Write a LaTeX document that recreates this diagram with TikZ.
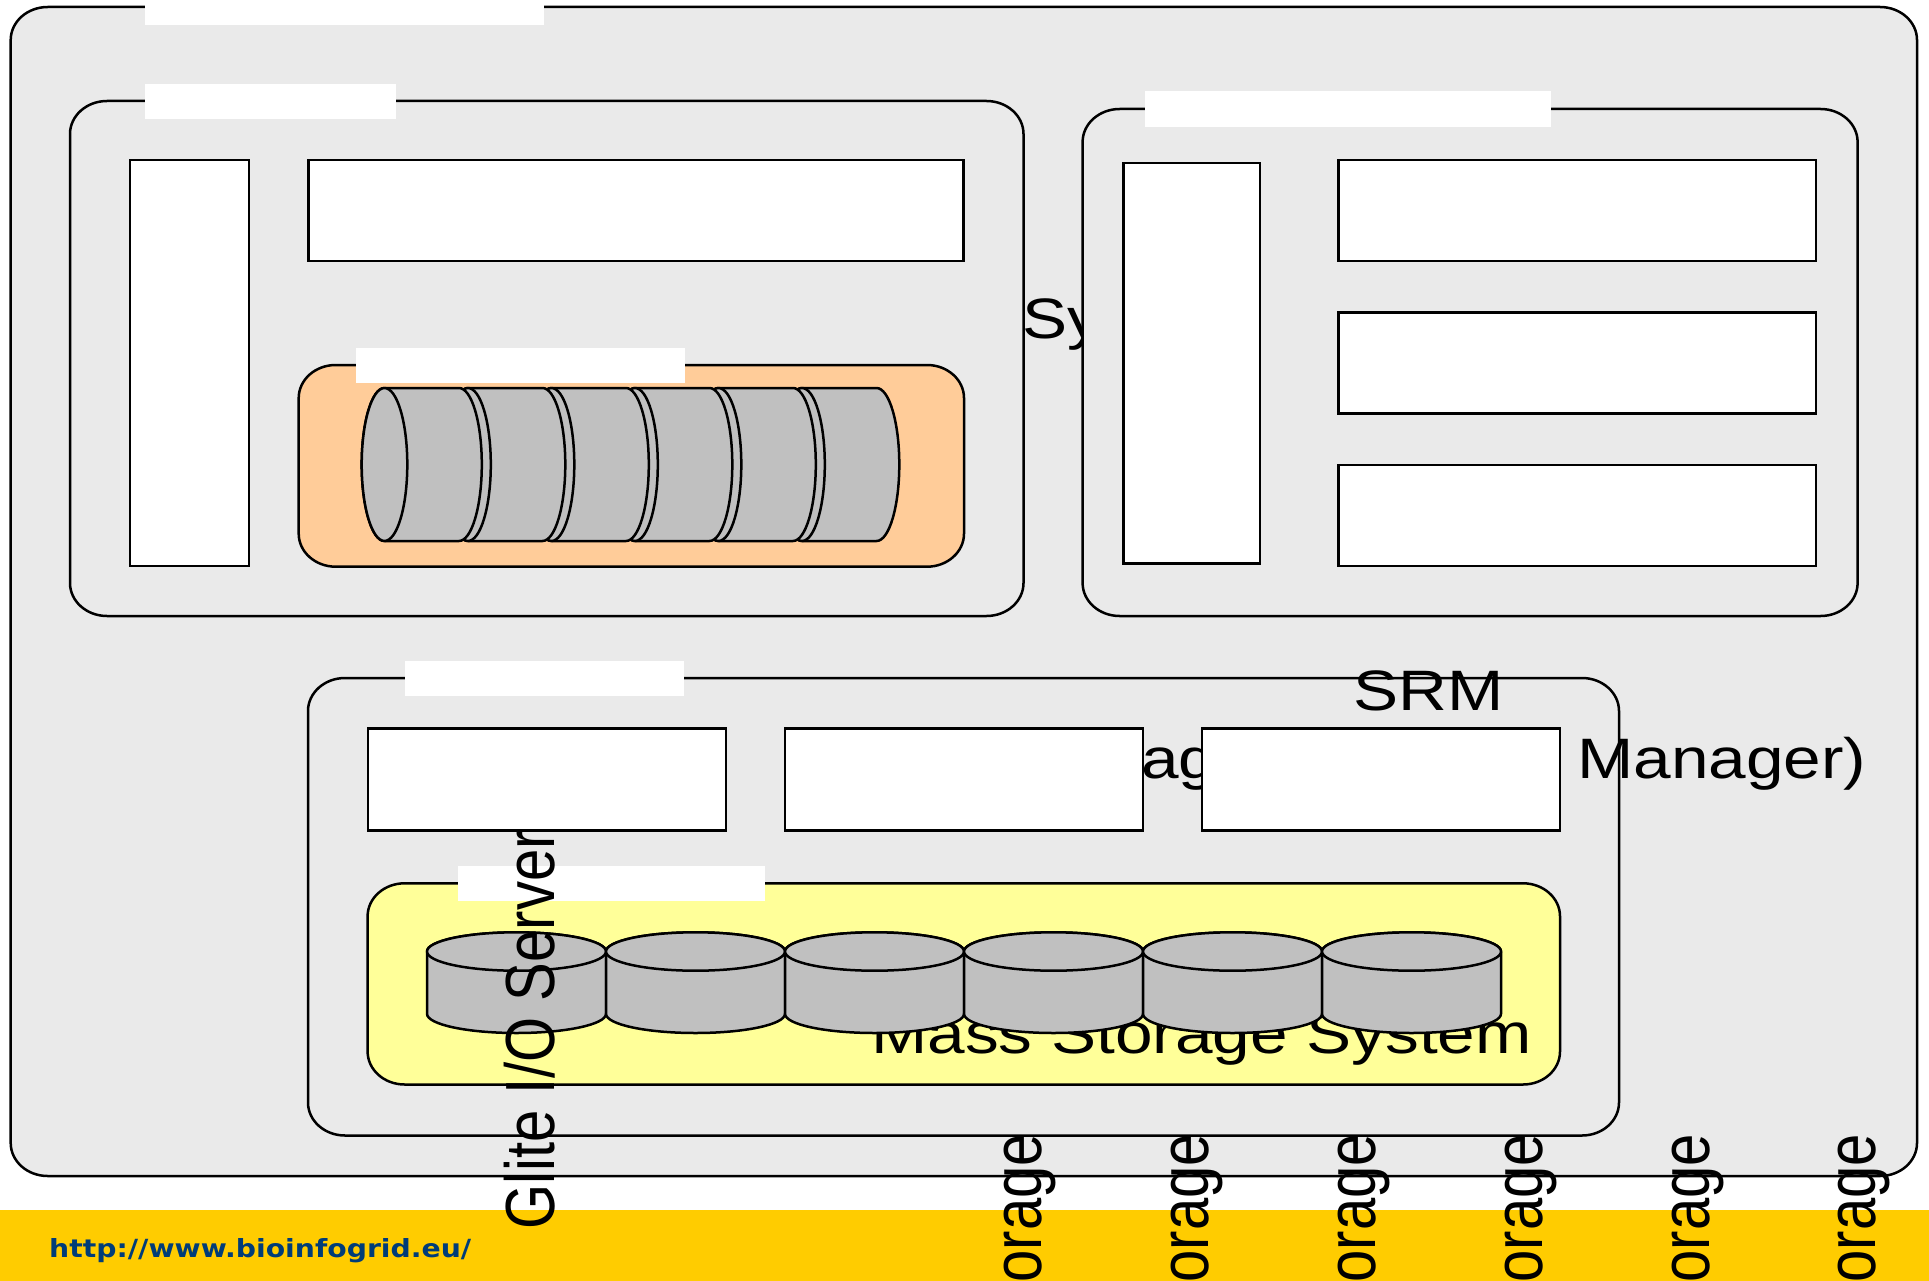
\documentclass[tikz,border=0pt]{standalone}
\usepackage{fontspec}
\setmainfont{Liberation Sans}
\newfontfamily\urlfont{DejaVu Sans}
\definecolor{panelgrey}{HTML}{EAEAEA}
\definecolor{bandyellow}{HTML}{FFCC00}
\definecolor{storeorange}{HTML}{FFCC99}
\definecolor{storeyellow}{HTML}{FFFF99}
\definecolor{diskgrey}{HTML}{C0C0C0}
\definecolor{urlblue}{HTML}{003C78}
\newcommand{\bigtext}[1]{\scalebox{1.185}[1]{\fontsize{57}{60}\selectfont #1}}
\newcommand{\uptext}[1]{\scalebox{1.2}[1]{\rotatebox{90}{\raisebox{0pt}[\height][0pt]{\fontsize{58}{60}\selectfont #1}}}}
% rounded rectangle with elliptical corners: x1,y1,x2,y2 (y axis points down)
\newcommand{\rrect}[5][]{%
  \path[outl,#1] (#2+37,#3) -- (#4-37,#3) arc[start angle=-90,end angle=0,x radius=37,y radius=33]
    -- (#4,#5-33) arc[start angle=0,end angle=90,x radius=37,y radius=33]
    -- (#2+37,#5) arc[start angle=90,end angle=180,x radius=37,y radius=33]
    -- (#2,#3+33) arc[start angle=180,end angle=270,x radius=37,y radius=33] -- cycle;}
\newcommand{\hcyl}[1]{%
  \path[outl,fill=diskgrey] (#1,388) -- (#1+74.5,388)
    arc[start angle=-90,end angle=90,x radius=22.8,y radius=76.5]
    -- (#1,541) arc[start angle=90,end angle=270,x radius=22.8,y radius=76.5] -- cycle;
  \path[outl,fill=diskgrey] (#1,464.5) ellipse[x radius=22.8,y radius=76.5];}
\newcommand{\vcyl}[1]{%
  \path[outl,fill=diskgrey] (#1,951.5) -- (#1,1013.8)
    arc[start angle=180,end angle=0,x radius=89.5,y radius=19.2]
    -- (#1+179,951.5) arc[start angle=0,end angle=-180,x radius=89.5,y radius=19.2] -- cycle;
  \path[outl,fill=diskgrey] (#1+89.5,951.5) ellipse[x radius=89.5,y radius=19.2];}
\begin{document}
\begin{tikzpicture}[x=1pt,y=-1pt,
  outl/.style={draw=black,line width=2.5pt,line join=round},
  wbox/.style={draw=black,line width=2.5pt,fill=white},
  titlebar/.style={fill=white},
  lbl/.style={inner sep=0pt,anchor=base west},
  uplbl/.style={inner sep=0pt,anchor=north east}]
\useasboundingbox (0,0) rectangle (1929,1281);
\clip (0,0) rectangle (1929,1281);
\fill[white] (0,0) rectangle (1929,1281);
\fill[bandyellow] (0,1210) rectangle (1929,1281);
\node[lbl,text=urlblue] (url) at (49,1257) {\resizebox{422pt}{\height}{\urlfont\bfseries\fontsize{25}{28}\selectfont http://www.bioinfogrid.eu/}};
% outer panel
\rrect[fill=panelgrey]{10.7}{7}{1917}{1176}
\fill[titlebar] (145,0) rectangle (544,25);
% left panel
\rrect[fill=panelgrey]{70}{101}{1023.5}{616}
\fill[titlebar] (145,84) rectangle (396,119);
\node[lbl] (sy) at (1022,338) {\bigtext{Sy}};
\draw[wbox] (130,160) rectangle (249,566);
\draw[wbox] (308.5,160) rectangle (963.5,261);
\rrect[fill=storeorange]{298.7}{365}{964}{566.7}
\foreach \cx in {802,718.5,635,551.5,468,384.5} {\hcyl{\cx}}
\fill[titlebar] (356,348) rectangle (685,383);
% right panel
\rrect[fill=panelgrey]{1082.6}{109}{1857.6}{616}
\fill[titlebar] (1145.3,91) rectangle (1551,126.7);
\draw[wbox] (1123.5,163) rectangle (1260,563.4);
\draw[wbox] (1338.5,160) rectangle (1815.8,261);
\draw[wbox] (1338.5,312.5) rectangle (1815.8,413.4);
\draw[wbox] (1338.5,465) rectangle (1815.8,566);
% SRM panel
\rrect[fill=panelgrey]{308}{678}{1619}{1135.5}
\fill[titlebar] (404.7,660.6) rectangle (684,696);
\node[lbl] (srm) at (1353,710) {\bigtext{SRM}};
\node[lbl] (ag) at (1141,778) {\bigtext{ag}};
\node[lbl] (mgr) at (1577,778) {\bigtext{Manager)}};
\draw[wbox] (368,728.3) rectangle (726,830.5);
\draw[wbox] (785,728.3) rectangle (1143,830.5);
\draw[wbox] (1202,728.3) rectangle (1560,830.5);
\rrect[fill=storeyellow]{367.6}{883.3}{1560}{1084.5}
\node[lbl] (mss) at (871,1053) {\bigtext{Mass Storage System}};
\foreach \cx in {427,606,785,964,1143,1322} {\vcyl{\cx}}
\fill[titlebar] (458,866) rectangle (765,901);
% vertical labels
\node[uplbl] (glite) at (555,830) {\uptext{Glite I/O Server}};
\node[uplbl] (s1) at (1041.7,1134) {\uptext{orage}};
\node[uplbl] (s2) at (1208.8,1134) {\uptext{orage}};
\node[uplbl] (s3) at (1375.9,1134) {\uptext{orage}};
\node[uplbl] (s4) at (1543,1134) {\uptext{orage}};
\node[uplbl] (s5) at (1710,1134) {\uptext{orage}};
\node[uplbl] (s6) at (1876,1134) {\uptext{orage}};
\end{tikzpicture}
\end{document}
